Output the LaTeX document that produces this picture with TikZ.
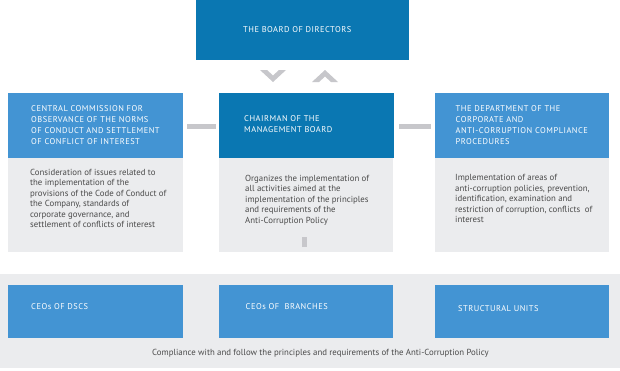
\documentclass[tikz,border=0pt]{standalone}
\usepackage{fontspec}
\setmainfont{PT Sans}
\newfontfamily\capsfont[LetterSpace=6]{PT Sans}
\definecolor{darkblue}{HTML}{0A77B2}
\definecolor{lightblue}{HTML}{4394D3}
\definecolor{bodygrey}{HTML}{EBECEE}
\definecolor{bargrey}{HTML}{C7C7CB}
\definecolor{txtgrey}{HTML}{4A4A4A}
\begin{document}
\begin{tikzpicture}[x=1pt,y=-1pt,
  box/.style={draw=none, inner sep=0pt, outer sep=0pt, anchor=north west},
  hdr/.style={box, fill=lightblue, minimum width=175pt, minimum height=65pt},
  hdrdark/.style={hdr, fill=darkblue},
  bodybox/.style={box, fill=bodygrey, minimum width=175pt, minimum height=94pt},
  unitbox/.style={box, fill=lightblue, minimum width=175pt, minimum height=53pt},
  htext/.style={anchor=west, inner sep=0pt, align=left, text=white,
    font=\capsfont\fontsize{8.4}{11}\selectfont},
  btext/.style={anchor=north west, inner sep=0pt, align=left, text=txtgrey,
    font=\fontsize{8.8}{10.5}\selectfont},
  bar/.style={draw=bargrey, line width=5pt},
  chev/.style={fill=bargrey, draw=none}
]
\useasboundingbox[fill=white] (0,0) rectangle (620,370);

% bottom band
\node[box, fill=bodygrey, minimum width=620pt, minimum height=94pt] (band) at (0,274) {};

% board
\node[box, fill=darkblue, minimum width=213pt, minimum height=60pt] (board) at (196,0) {};
\node[htext] (boardt) at (243,29.5) {THE BOARD OF DIRECTORS};

% chevrons
\path[chev] (260,70) -- (267,70) -- (273,75.5) -- (279,70) -- (286,70) -- (273,82) -- cycle;
\path[chev] (312,82) -- (319,82) -- (325,76.5) -- (331,82) -- (338,82) -- (325,70) -- cycle;

% left column
\node[hdr] (cch) at (8,93) {};
\node[bodybox] (ccb) at (8,158) {};
\node[htext] (ccht) at (31,125.5) {CENTRAL COMMISSION FOR\\OBSERVANCE OF THE NORMS\\OF CONDUCT AND SETTLEMENT\\OF CONFLICT OF INTEREST};
\node[btext] (ccbt) at (30,169) {Consideration of issues related to\\the implementation of the\\provisions of the Code of Conduct of\\the Company, standards of\\corporate governance, and\\settlement of conflicts of interest};

% centre column
\node[hdrdark] (chh) at (219,93) {};
\node[bodybox, minimum width=174pt] (chb) at (219,158) {};
\node[htext] (chht) at (244,124.5) {CHAIRMAN OF THE\\MANAGEMENT BOARD};
\node[btext] (chbt) at (245,175) {Organizes the implementation of\\all activities aimed at the\\implementation of the principles\\and requirements of the\\Anti-Corruption Policy};

% right column
\node[hdr, minimum width=174pt] (dph) at (435,93) {};
\node[bodybox, minimum width=174pt] (dpb) at (435,158) {};
\node[htext] (dpht) at (455.5,125.5) {THE DEPARTMENT OF THE\\CORPORATE AND\\ANTI-CORRUPTION COMPLIANCE\\PROCEDURES};
\node[btext] (dpbt) at (455,174.5) {Implementation of areas of\\anti-corruption policies, prevention,\\identification, examination and\\restriction of corruption, conflicts\ \ of\\interest};

% connectors
\draw[bar, shorten <=4pt, shorten >=3pt] ([yshift=-1pt]cch.east) -- ([yshift=-1pt]chh.west);
\draw[bar, shorten <=5pt, shorten >=4pt] ([yshift=-1pt]chh.east) -- ([yshift=-1pt]dph.west);
\draw[bar] ([xshift=-1.5pt,yshift=5pt]chb.south) -- ([xshift=-1.5pt,yshift=15pt]chb.south);

% bottom units
\node[unitbox] (dscs) at (8,285) {};
\node[unitbox, minimum width=174pt] (br) at (219,285) {};
\node[unitbox, minimum width=174pt] (su) at (435,285) {};
\node[htext] (dscst) at (31,306.7) {CEOs OF DSCS};
\node[htext] (brt) at (245.5,306.7) {CEOs OF\ \ BRANCHES};
\node[htext] (sut) at (458,308.3) {STRUCTURAL UNITS};

\node[anchor=west, inner sep=0pt, text=txtgrey, font=\fontsize{8.8}{10.5}\selectfont] (foot) at (152,353.7) {Compliance with and follow the principles and requirements of the Anti-Corruption Policy};
\end{tikzpicture}
\end{document}
